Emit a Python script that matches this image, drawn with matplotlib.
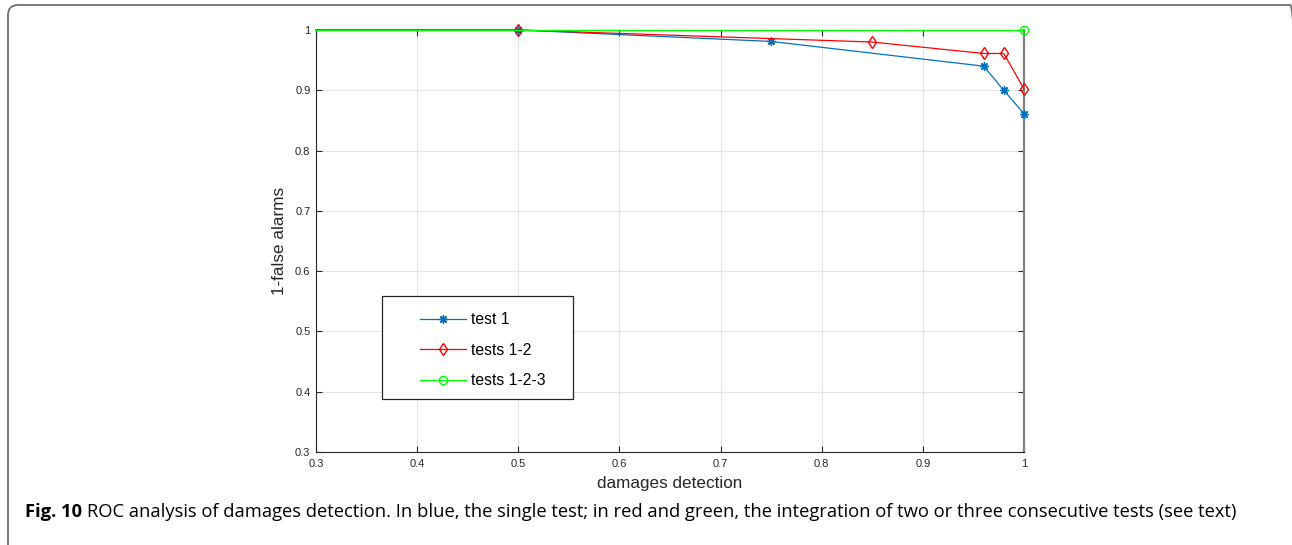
import numpy as np
import matplotlib.pyplot as plt
from matplotlib.patches import FancyBboxPatch, Rectangle
from matplotlib.transforms import IdentityTransform

# ROC points (x = damages detection, y = 1 - false alarms)
x_t1 = [0.3, 0.5, 0.75, 0.96, 0.98, 1.0]
y_t1 = [1.0, 1.0, 0.981, 0.94, 0.90, 0.861]
x_t12 = [0.3, 0.5, 0.85, 0.96, 0.98, 1.0]
y_t12 = [1.0, 1.0, 0.98, 0.961, 0.961, 0.902]
x_t123 = [0.3, 1.0]
y_t123 = [1.0, 1.0]

xticks = [0.3, 0.4, 0.5, 0.6, 0.7, 0.8, 0.9, 1.0]
yticks = [0.3, 0.4, 0.5, 0.6, 0.7, 0.8, 0.9, 1.0]
ticklabels = ['0.3', '0.4', '0.5', '0.6', '0.7', '0.8', '0.9', '1']

caption_bold = 'Fig. 10'
caption = ('ROC analysis of damages detection. In blue, the single test; in red and green, '
           'the integration of two or three consecutive tests (see text)')

plt.rcParams['font.family'] = ['Liberation Sans', 'DejaVu Sans']

fig = plt.figure(figsize=(12.92, 5.45), dpi=100)

# open frame round figure + caption (bottom and right run off the page)
fig.patches.append(FancyBboxPatch((8, -30), 1292, 570,
                                  boxstyle='round,pad=0,rounding_size=10',
                                  transform=IdentityTransform(), fill=False,
                                  ec='#6e6e6e', lw=1.3))

ax = fig.add_axes([0.2446, 0.1706, 0.548, 0.7744])
ax.plot(x_t1, y_t1, '-', marker=(8, 2, 0), color='#0072BD', lw=0.9, ms=6,
        markevery=list(range(1, len(x_t1))), clip_on=False, zorder=3, label='test 1')
ax.plot(x_t12, y_t12, '-d', color='#ff0000', lw=0.9, ms=6, mfc='none',
        markevery=list(range(1, len(x_t12))), clip_on=False, zorder=3, label='tests 1-2')
ax.plot(x_t123, y_t123, '-o', color='#00ff00', lw=0.9, ms=6, mfc='none',
        markevery=[len(x_t123) - 1], clip_on=False, zorder=3, label='tests 1-2-3')

ax.set_xlim(0.3, 1.0)
ax.set_ylim(0.3, 1.0)
ax.set_xticks(xticks)
ax.set_xticklabels(ticklabels)
ax.set_yticks(yticks)
ax.set_yticklabels(ticklabels)
ax.tick_params(direction='in', length=4, width=0.8, labelsize=8,
               colors='#262626', top=True, right=True)
ax.tick_params(axis='x', pad=5)
ax.tick_params(axis='y', pad=4)
ax.grid(True, color='#e3e3e3', lw=0.8)
ax.set_axisbelow(True)
for s in ax.spines.values():
    s.set_color('#262626')
    s.set_linewidth(0.8)
ax.spines['right'].set_color('#808080')
ax.spines['right'].set_linewidth(1.6)
ax.spines['top'].set_color('#808080')

ax.set_xlabel('damages detection', fontsize=12.3, color='#262626', labelpad=5)
ax.set_ylabel('1-false alarms', fontsize=12.3, color='#262626', labelpad=6)

# legend without its own frame, MATLAB-like box drawn separately
leg = ax.legend(loc='upper left', bbox_to_anchor=(0.147, 0.331), fontsize=11.3,
                frameon=False, handlelength=2.9, handletextpad=0.35,
                labelspacing=0.98, borderpad=0, borderaxespad=0)
ax.add_patch(Rectangle((0.0932, 0.1256), 0.27, 0.244, transform=ax.transAxes,
                       fill=True, fc='white', ec='#262626', lw=0.9, zorder=4))
leg.set_zorder(5)

# caption: bold label then plain text right after it
t1 = fig.text(25 / 1292, 1 - 512 / 545, caption_bold, fontsize=13.2, fontweight='bold',
              family=['Open Sans', 'DejaVu Sans'], ha='left', va='center')
fig.canvas.draw()
bb = t1.get_window_extent()
fig.text((bb.x1 + 5) / 1292, 1 - 512 / 545, caption,
         fontsize=13.2, family=['Open Sans', 'DejaVu Sans'], ha='left', va='center')

fig.savefig('out.png', dpi=100)
